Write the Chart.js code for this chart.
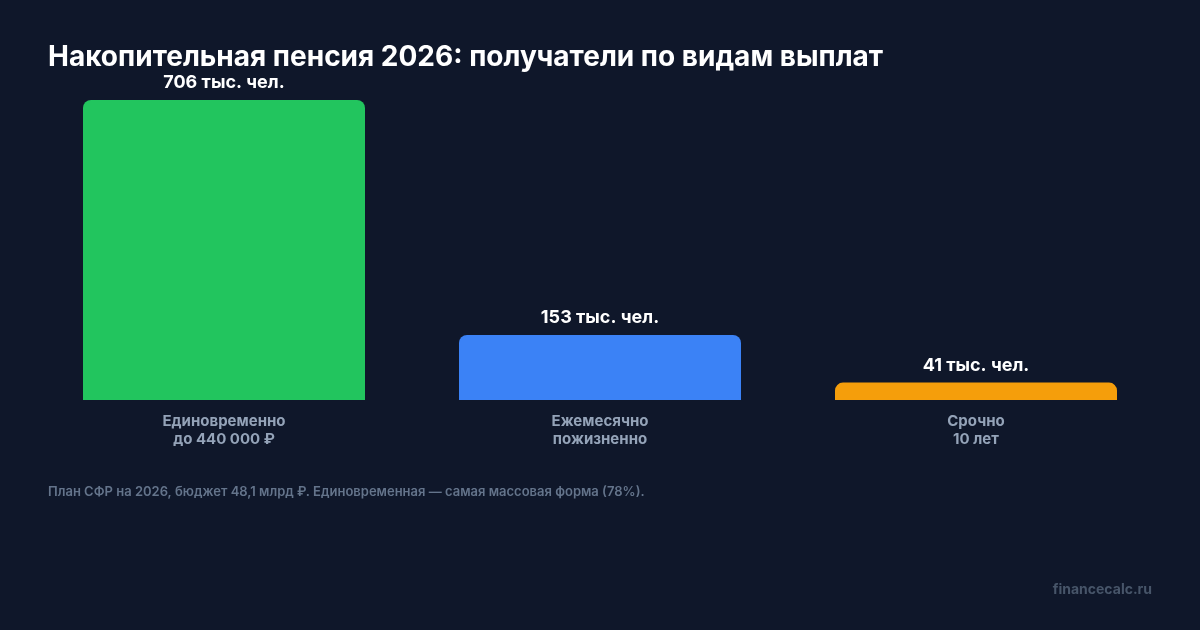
<!DOCTYPE html>
<html lang="ru">
<head>
<meta charset="utf-8">
<script src="https://cdn.jsdelivr.net/npm/chart.js@4.4.1/dist/chart.umd.min.js"></script>
<style>
  html, body { margin: 0; padding: 0; background: #0f172a; }
  #wrap { width: 1200px; height: 630px; position: relative; }
</style>
</head>
<body>
<div id="wrap"><canvas id="chart" width="1200" height="630"></canvas></div>
<script>
const categories = [['Единовременно', 'до 440 000 ₽'], ['Ежемесячно', 'пожизненно'], ['Срочно', '10 лет']];
const recipients = [706, 153, 41];
const valueLabels = ['706 тыс. чел.', '153 тыс. чел.', '41 тыс. чел.'];
const barColors = ['#22c55e', '#3b82f6', '#f59e0b'];

const titleText = 'Накопительная пенсия 2026: получатели по видам выплат';
const noteText = 'План СФР на 2026, бюджет 48,1 млрд ₽. Единовременная — самая массовая форма (78%).';
const siteText = 'financecalc.ru';

const extras = {
    id: 'extras',
    afterDatasetsDraw(chart) {
        const ctx = chart.ctx;
        const meta = chart.getDatasetMeta(0);
        ctx.save();
        ctx.fillStyle = '#ffffff';
        ctx.font = 'bold 18px Inter';
        ctx.textAlign = 'center';
        ctx.textBaseline = 'bottom';
        meta.data.forEach((bar, i) => {
            ctx.fillText(valueLabels[i], bar.x, bar.y - 8);
        });
        ctx.restore();
    },
    afterDraw(chart) {
        const ctx = chart.ctx;
        ctx.save();
        ctx.textAlign = 'left';
        ctx.textBaseline = 'middle';
        ctx.fillStyle = '#ffffff';
        ctx.font = 'bold 28px Inter';
        ctx.fillText(titleText, 48, 58);

        ctx.fillStyle = '#64748b';
        ctx.font = '600 13px Inter';
        ctx.fillText(noteText, 48, 492);

        ctx.textAlign = 'right';
        ctx.fillStyle = '#475569';
        ctx.font = 'bold 14px Inter';
        ctx.fillText(siteText, 1152, 590);
        ctx.restore();
    }
};

new Chart(document.getElementById('chart').getContext('2d'), {
    type: 'bar',
    data: {
        labels: categories,
        datasets: [{
            data: recipients,
            backgroundColor: barColors,
            borderRadius: { topLeft: 8, topRight: 8 },
            borderSkipped: 'bottom',
            categoryPercentage: 1,
            barPercentage: 0.75
        }]
    },
    options: {
        responsive: false,
        animation: false,
        layout: { padding: { top: 100, left: 36, right: 36, bottom: 184 } },
        plugins: {
            legend: { display: false },
            tooltip: { enabled: false }
        },
        scales: {
            y: { display: false, min: 0, max: 706 },
            x: {
                grid: { display: false },
                border: { display: false },
                afterFit(scale) { scale.height = 46; },
                ticks: {
                    color: '#94a3b8',
                    font: { family: 'Inter', size: 15, weight: 'bold', lineHeight: 1.2 },
                    padding: 4
                }
            }
        }
    },
    plugins: [extras]
});
</script>
</body>
</html>
